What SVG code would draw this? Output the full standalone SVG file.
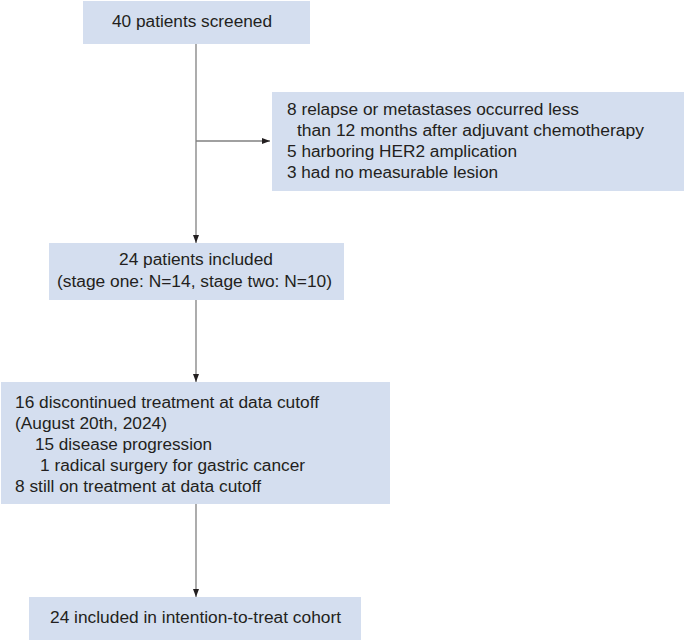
<svg xmlns="http://www.w3.org/2000/svg" width="685" height="642" viewBox="0 0 685 642">
<defs>
<style>
.box{fill:#d4deef;}
.t{font-family:"Liberation Sans",Arial,sans-serif;font-size:16px;fill:#231f20;}
.c{stroke:#808080;stroke-width:1.3;fill:none;marker-end:url(#ah);}
</style>
<marker id="ah" viewBox="0 0 8 6" refX="8" refY="3" markerWidth="8" markerHeight="6" markerUnits="userSpaceOnUse" orient="auto">
<path d="M0,0 L8,3 L0,6 Z" fill="#231f20"/>
</marker>
</defs>
<rect width="685" height="642" fill="#ffffff"/>
<g id="connectors">
<path class="c" d="M196,44 V243"/>
<path class="c" d="M196,141 H270"/>
<path class="c" d="M196,300 V382"/>
<path class="c" d="M196,504 V597"/>
</g>
<g id="screened">
<rect class="box" x="83" y="1" width="227" height="43"/>
<text class="t" x="112" y="27" textLength="160" lengthAdjust="spacingAndGlyphs">40 patients screened</text>
</g>
<g id="excluded">
<rect class="box" x="272" y="92" width="412" height="99"/>
<text class="t" x="287" y="115" textLength="292" lengthAdjust="spacingAndGlyphs">8 relapse or metastases occurred less</text>
<text class="t" x="297" y="136" textLength="347" lengthAdjust="spacingAndGlyphs">than 12 months after adjuvant chemotherapy</text>
<text class="t" x="287" y="157" textLength="230" lengthAdjust="spacingAndGlyphs">5 harboring HER2 amplication</text>
<text class="t" x="287" y="178" textLength="211" lengthAdjust="spacingAndGlyphs">3 had no measurable lesion</text>
</g>
<g id="included">
<rect class="box" x="49" y="243" width="295" height="57"/>
<text class="t" x="119" y="265" textLength="154" lengthAdjust="spacingAndGlyphs">24 patients included</text>
<text class="t" x="57" y="287" textLength="275" lengthAdjust="spacingAndGlyphs">(stage one: N=14, stage two: N=10)</text>
</g>
<g id="treatment">
<rect class="box" x="1" y="382" width="389" height="122"/>
<text class="t" x="15" y="408" textLength="304" lengthAdjust="spacingAndGlyphs">16 discontinued treatment at data cutoff</text>
<text class="t" x="15" y="429" textLength="152" lengthAdjust="spacingAndGlyphs">(August 20th, 2024)</text>
<text class="t" x="35" y="450" textLength="177" lengthAdjust="spacingAndGlyphs">15 disease progression</text>
<text class="t" x="40" y="471" textLength="265" lengthAdjust="spacingAndGlyphs">1 radical surgery for gastric cancer</text>
<text class="t" x="15" y="492" textLength="246" lengthAdjust="spacingAndGlyphs">8 still on treatment at data cutoff</text>
</g>
<g id="itt">
<rect class="box" x="29" y="597" width="332" height="43"/>
<text class="t" x="50" y="623" textLength="291" lengthAdjust="spacingAndGlyphs">24 included in intention-to-treat cohort</text>
</g>
</svg>
